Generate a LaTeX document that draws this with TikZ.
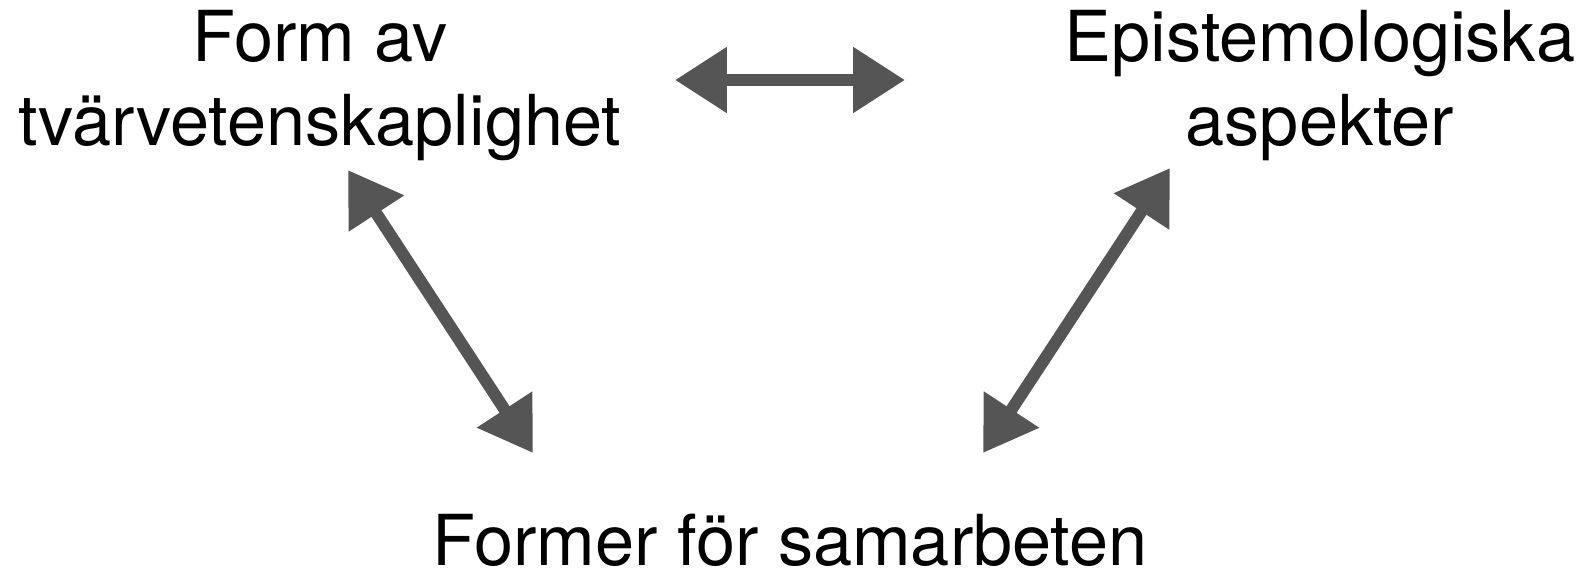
\documentclass[tikz,border=0pt]{standalone}
\usepackage{fontspec}
\setmainfont{TeX Gyre Heros}
\usetikzlibrary{arrows.meta}
\definecolor{chalk}{HTML}{555555}
\tikzset{
  label/.style={inner sep=0pt, align=center, font=\fontsize{40}{48}\selectfont},
  link/.style={{Triangle[length=1.04cm, width=1.26cm]}-{Triangle[length=1.04cm, width=1.26cm]}, line width=0.24cm, color=chalk, line join=round}
}
\begin{document}
\begin{tikzpicture}[x=0.02cm, y=-0.02cm]
\useasboundingbox (0,0) rectangle (1595,576);
\node[label, anchor=north] (form) at (320,10) {Form av\\tvärvetenskaplighet};
\node[label, anchor=north] (epi) at (1320,10) {Epistemologiska\\aspekter};
\node[label, anchor=base] (samarb) at (790,565) {Former för samarbeten};
\coordinate (topL) at (675,80);
\coordinate (topR) at (905,80);
\coordinate (leftU) at (348,170);
\coordinate (leftD) at (533,453);
\coordinate (rightU) at (1170,168);
\coordinate (rightD) at (983,453);
\draw[link] (topL) -- (topR);
\draw[link] (leftU) -- (leftD);
\draw[link] (rightU) -- (rightD);
\end{tikzpicture}
\end{document}
